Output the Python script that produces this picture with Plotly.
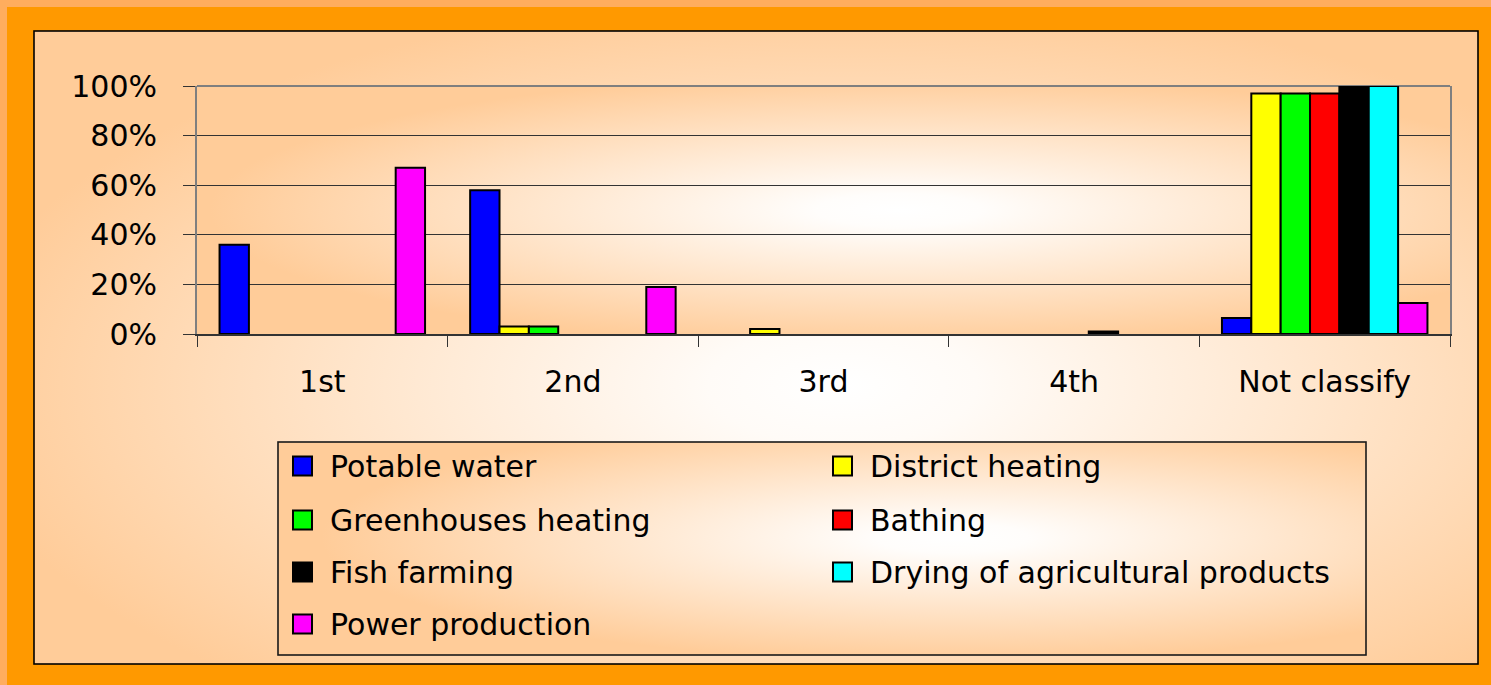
import base64
import plotly.graph_objects as go

# ---------------- data ----------------
categories = ["1st", "2nd", "3rd", "4th", "Not classify"]
series_names = [
    "Potable water",
    "District heating",
    "Greenhouses heating",
    "Bathing",
    "Fish farming",
    "Drying of agricultural products",
    "Power production",
]
potable_water = [0.36, 0.58, 0.0, 0.0, 0.065]
district_heating = [0.0, 0.03, 0.02, 0.0, 0.97]
greenhouses_heating = [0.0, 0.03, 0.0, 0.0, 0.97]
bathing = [0.0, 0.0, 0.0, 0.0, 0.97]
fish_farming = [0.0, 0.0, 0.0, 0.01, 1.0]
drying_agri = [0.0, 0.0, 0.0, 0.0, 1.0]
power_production = [0.67, 0.19, 0.0, 0.0, 0.125]
y_tick_values = [0, 0.2, 0.4, 0.6, 0.8, 1.0]
y_tick_labels = ["0%", "20%", "40%", "60%", "80%", "100%"]

series_values = [potable_water, district_heating, greenhouses_heating, bathing,
                 fish_farming, drying_agri, power_production]
colors = ["#0000FF", "#FFFF00", "#00FF00", "#FF0000", "#000000", "#00FFFF", "#FF00FF"]

# ---------------- geometry ----------------
W, H = 1491, 685
PL, PR, PT, PB = 197, 1450, 86, 334   # plot area in pixels
PW, PH = PR - PL, PB - PT
FONT = "DejaVu Sans"
FS = 30


def px(x):
    return (x - PL) / PW


def py(y):
    return (PB - y) / PH


# ---------------- background (gradients) ----------------
svg = f"""<svg xmlns='http://www.w3.org/2000/svg' width='{W}' height='{H}' viewBox='0 0 {W} {H}'>
<defs>
<radialGradient id='gp' cx='0.56' cy='0.56' r='0.62'>
<stop offset='0' stop-color='#FFFFFF'/><stop offset='0.15' stop-color='#FFFBF7'/><stop offset='1' stop-color='#FFCC99'/>
</radialGradient>
<radialGradient id='ga' cx='0.56' cy='0.5' r='0.55'>
<stop offset='0' stop-color='#FFFFFF'/><stop offset='0.12' stop-color='#FFFDFB'/><stop offset='1' stop-color='#FFCC99'/>
</radialGradient>
<radialGradient id='gl' cx='0.62' cy='0.45' r='0.58'>
<stop offset='0' stop-color='#FFFFFF'/><stop offset='0.12' stop-color='#FFFDFB'/><stop offset='1' stop-color='#FFCC99'/>
</radialGradient>
</defs>
<rect x='0' y='0' width='{W}' height='{H}' fill='#FF9900'/>
<rect x='0' y='0' width='{W}' height='7' fill='#FFAD5E'/>
<rect x='0' y='0' width='7' height='{H}' fill='#FFAD5E'/>
<rect x='34' y='31' width='1444' height='633' fill='url(#gp)' stroke='#000000' stroke-width='1.6'/>
<rect x='{PL}' y='{PT}' width='{PW}' height='{PH}' fill='url(#ga)'/>
<rect x='278' y='442' width='1088' height='213' fill='url(#gl)' stroke='#1a1a1a' stroke-width='1.6'/>
</svg>"""
src = "data:image/svg+xml;base64," + base64.b64encode(svg.encode()).decode()

fig = go.Figure()
for name, vals, col in zip(series_names, series_values, colors):
    fig.add_trace(go.Bar(
        x=categories, y=vals, name=name,
        marker=dict(color=col,
                    line=dict(color="#000000", width=[2 if v > 0 else 0 for v in vals])),
        showlegend=False, hoverinfo="skip",
    ))

shapes = []
annotations = []
# plot-area top border
shapes.append(dict(type="line", xref="paper", yref="paper", x0=0, x1=1, y0=1, y1=1,
                   line=dict(color="#7F7F7F", width=2), layer="below"))

# ---------------- legend (two columns) ----------------
col_marker_x = [293, 833]
col_text_x = [328, 868]
row_y = [466, 520, 572, 624]
MS = 19
for i, (name, col) in enumerate(zip(series_names, colors)):
    r, c = divmod(i, 2)
    cx, cy = col_marker_x[c], row_y[r]
    shapes.append(dict(type="rect", xref="paper", yref="paper",
                       x0=px(cx), x1=px(cx + MS), y0=py(cy + MS / 2), y1=py(cy - MS / 2),
                       fillcolor=col, line=dict(color="#000000", width=2), layer="above"))
    annotations.append(dict(text=name, xref="paper", yref="paper", x=px(col_text_x[c]), y=py(cy),
                            xanchor="left", yanchor="middle", showarrow=False,
                            font=dict(family=FONT, size=FS, color="#000000")))

fig.update_layout(
    width=W, height=H,
    margin=dict(l=PL, r=W - PR, t=PT, b=H - PB, pad=0),
    paper_bgcolor="#FF9900",
    plot_bgcolor="rgba(0,0,0,0)",
    barmode="group",
    bargap=0.18,
    bargroupgap=0,
    font=dict(family=FONT, size=FS, color="#000000"),
    images=[dict(source=src, xref="paper", yref="paper",
                 x=-PL / PW, y=PB / PH, sizex=W / PW, sizey=H / PH,
                 xanchor="left", yanchor="top", sizing="stretch", layer="below")],
    shapes=shapes,
    annotations=annotations,
    showlegend=False,
)
fig.update_xaxes(
    range=[-0.5, 4.5], showgrid=False, showline=True, linecolor="#333333", linewidth=2,
    ticks="outside", tickson="boundaries", ticklen=11, tickcolor="#333333", tickwidth=1,
    ticklabelstandoff=20, tickfont=dict(family=FONT, size=FS, color="#000000"),
    zeroline=False, fixedrange=True,
)
fig.update_yaxes(
    range=[0, 1], tickvals=y_tick_values, ticktext=y_tick_labels,
    showgrid=True, gridcolor="#333333", gridwidth=1,
    showline=True, linecolor="#7F7F7F", linewidth=2, mirror=True,
    ticks="outside", ticklen=12, tickcolor="#333333", tickwidth=1,
    ticklabelstandoff=20, tickfont=dict(family=FONT, size=FS, color="#000000"),
    zeroline=False, fixedrange=True,
)

fig.write_html("out.html", config={"displayModeBar": False},
               post_script="document.body.style.margin='0px';document.body.style.padding='0px';")
